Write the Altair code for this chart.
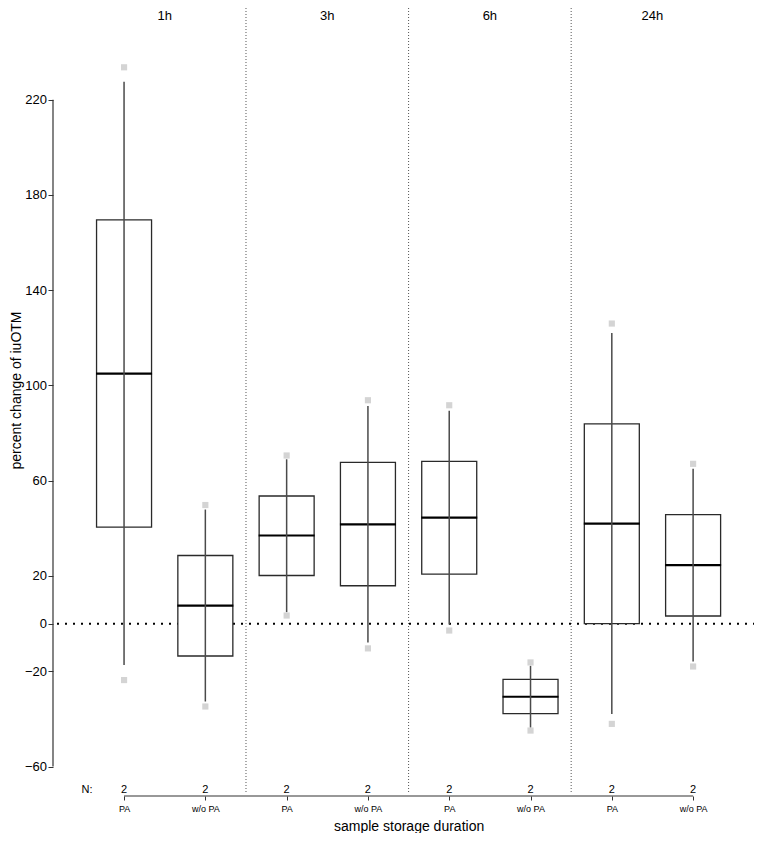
import altair as alt
import pandas as pd

# ---- data ----
durations = ["1h", "3h", "6h", "24h"]
conditions = ["PA", "w/o PA"]
point_high = [233.6, 49.8, 70.6, 93.8, 91.7, -16.3, 126.0, 67.1]
point_low = [-23.7, -34.8, 3.4, -10.4, -2.9, -44.9, -42.1, -18.0]
whisker_high = [227.5, 47.9, 69.0, 91.4, 89.4, -17.7, 122.0, 65.0]
whisker_low = [-17.4, -32.7, 4.8, -7.9, -0.4, -43.7, -38.0, -15.9]
q3 = [169.5, 28.6, 53.6, 67.7, 68.1, -23.4, 83.9, 45.8]
median = [105.0, 7.6, 37.0, 41.7, 44.5, -30.7, 42.0, 24.6]
q1 = [40.5, -13.6, 20.2, 15.9, 20.8, -37.8, 0.0, 3.2]
n_obs = [2, 2, 2, 2, 2, 2, 2, 2]
y_ticks = [-60, -20, 0, 20, 60, 100, 140, 180, 220]

# ---- build tables ----
rows = []
k = 0
for d in durations:
    for c in conditions:
        rows.append({
            "pos": k + 1, "duration": d, "condition": c,
            "q1": q1[k], "median": median[k], "q3": q3[k],
            "wlo": whisker_low[k], "whi": whisker_high[k],
            "plo": point_low[k], "phi": point_high[k],
            "n": str(n_obs[k]),
        })
        k += 1
df = pd.DataFrame(rows)

facet_df = df.groupby("duration", sort=False)["pos"].mean().reset_index()
div_pos = [(df["pos"][2 * i + 1] + df["pos"][2 * i + 2]) / 2 for i in range(len(durations) - 1)]
div_df = pd.DataFrame({"pos": div_pos})
zero_df = pd.DataFrame({"v": [0]})
xaxis_df = pd.DataFrame({"a": [df["pos"].min()], "b": [df["pos"].max()]})
yaxis_df = pd.DataFrame({"a": [min(y_ticks)], "b": [max(y_ticks)]})
nlab_df = pd.DataFrame({"t": ["N:"]})

W = 701
H = 784
FONT = "Liberation Sans"

label_list = "[" + ",".join("'" + c + "'" for c in df["condition"]) + "]"

x_enc = alt.X(
    "pos:Q",
    scale=alt.Scale(domain=[0.1875, 8.6875], nice=False, zero=False),
    axis=alt.Axis(
        values=list(df["pos"]), labelExpr=label_list + "[datum.value-1]",
        domain=False, grid=False, ticks=True, tickSize=4, tickColor="#333",
        offset=4, labelFontSize=9, labelPadding=4, labelColor="black",
        title="sample storage duration", titleFontSize=14, titleFontWeight="normal",
        titleColor="black", titleX=355.6, titleY=34.5, titleBaseline="alphabetic",
    ),
)


def y_enc(field):
    return alt.Y(
        field,
        scale=alt.Scale(domain=[-70.7, 258.5], nice=False, zero=False),
        axis=alt.Axis(
            values=y_ticks, domain=False, grid=False, tickSize=5, tickColor="#333",
            labelFontSize=13, labelPadding=1.5, labelColor="black",
            title="percent change of iuOTM", titleFontSize=14, titleFontWeight="normal",
            titleColor="black", titleX=-33, titleY=382, titleAngle=-90,
            titleAlign="center", titleBaseline="alphabetic",
        ),
    )


base = alt.Chart(df)

dividers = alt.Chart(div_df).mark_rule(color="#555", strokeDash=[1, 2], strokeWidth=1).encode(
    x=x_enc, y=alt.value(0), y2=alt.value(H)
)

zero_line = alt.Chart(zero_df).mark_rule(color="black", strokeDash=[2, 6], strokeWidth=2).encode(
    y=y_enc("v:Q"), x=alt.value(4), x2=alt.value(W)
)

boxes = base.mark_bar(size=55, fill="white", stroke="#2a2a2a", strokeWidth=1.3).encode(
    x=x_enc, y=y_enc("q1:Q"), y2="q3:Q"
)

medians = base.mark_tick(orient="horizontal", size=56, thickness=2.2, color="black", opacity=1).encode(
    x=x_enc, y=y_enc("median:Q")
)

whiskers = base.mark_rule(color="#4a4a4a", strokeWidth=1.5).encode(
    x=x_enc, y=y_enc("wlo:Q"), y2="whi:Q"
)

points = base.transform_fold(["plo", "phi"], as_=["which", "val"]).mark_square(
    size=38, color="#d4d4d4", opacity=1
).encode(x=x_enc, y=y_enc("val:Q"))

facet_labels = alt.Chart(facet_df).mark_text(
    fontSize=13, baseline="alphabetic", color="black", fontWeight="normal"
).encode(x=x_enc, y=alt.value(12), text="duration:N")

n_text = base.mark_text(fontSize=11, baseline="alphabetic", color="black").encode(
    x=x_enc, y=alt.value(784.5), text="n:N"
)
n_label = alt.Chart(nlab_df).mark_text(fontSize=11, baseline="alphabetic", color="black").encode(
    x=alt.value(34), y=alt.value(784.5), text="t:N"
)

x_domain = alt.Chart(xaxis_df).mark_rule(color="#333", strokeWidth=1.2).encode(
    x=x_enc, x2="b:Q", y=alt.value(H + 4)
).transform_calculate(pos="datum.a")

y_domain = alt.Chart(yaxis_df).mark_rule(color="#333", strokeWidth=1.2).encode(
    y=y_enc("a:Q"), y2="b:Q", x=alt.value(0)
)

chart = alt.layer(
    dividers, zero_line, boxes, medians, whiskers, points,
    facet_labels, n_text, n_label, x_domain, y_domain,
).properties(
    width=W, height=H,
    padding={"left": 45, "top": 0, "right": 0, "bottom": 41},
    autosize=alt.AutoSizeParams(type="none"),
).configure(font=FONT).configure_view(stroke=None)

chart.save("out.html", embed_options={"renderer": "svg", "actions": False})
